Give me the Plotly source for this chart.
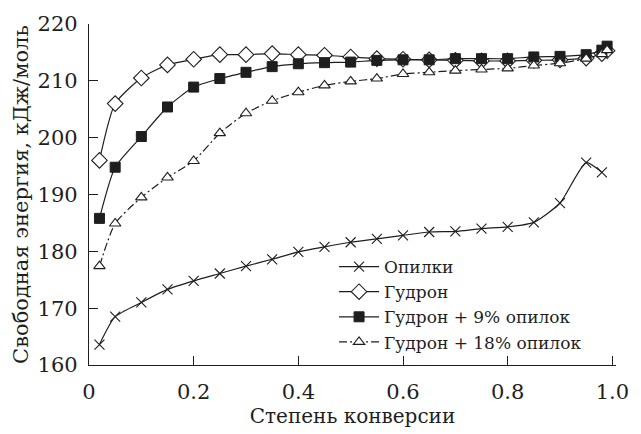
import plotly.graph_objects as go

# Conversion degree values for each series
x_opilki = [0.02, 0.05, 0.10, 0.15, 0.20, 0.25, 0.30, 0.35, 0.40, 0.45, 0.50,
            0.55, 0.60, 0.65, 0.70, 0.75, 0.80, 0.85, 0.90, 0.95, 0.98]
y_opilki = [163.6, 168.5, 171.0, 173.3, 174.8, 176.1, 177.4, 178.6, 179.9, 180.8, 181.6,
            182.2, 182.8, 183.4, 183.5, 184.0, 184.3, 185.1, 188.5, 195.6, 193.9]

x_common = [0.02, 0.05, 0.10, 0.15, 0.20, 0.25, 0.30, 0.35, 0.40, 0.45, 0.50,
            0.55, 0.60, 0.65, 0.70, 0.75, 0.80, 0.85, 0.90, 0.95, 0.98, 0.99]
y_gudron = [196.0, 206.0, 210.5, 212.8, 213.8, 214.6, 214.6, 214.8, 214.6, 214.5, 214.2,
            213.9, 213.8, 213.7, 213.6, 213.5, 213.5, 213.6, 213.7, 214.0, 214.8, 215.3]
y_gudron9 = [185.8, 194.8, 200.2, 205.4, 208.9, 210.4, 211.5, 212.5, 213.0, 213.2, 213.3,
             213.6, 213.7, 213.7, 213.9, 213.9, 213.9, 214.2, 214.3, 214.6, 215.4, 216.1]
y_gudron18 = [177.4, 184.9, 189.5, 193.0, 195.9, 200.8, 204.3, 206.5, 208.0, 209.2, 209.9,
              210.4, 211.2, 211.5, 211.8, 212.0, 212.2, 212.7, 213.1, 213.9, 214.7, 215.4]

names = ["Опилки", "Гудрон", "Гудрон + 9% опилок", "Гудрон + 18% опилок"]

x_ticks = [0, 0.2, 0.4, 0.6, 0.8, 1.0]
x_ticktext = ["0", "0.2", "0.4", "0.6", "0.8", "1.0"]
y_ticks = [160, 170, 180, 190, 200, 210, 220]

ink = "#1e1e1e"
font_family = "DejaVu Serif"

fig = go.Figure()

fig.add_trace(go.Scatter(
    x=x_opilki, y=y_opilki, name=names[0], mode="lines+markers",
    line=dict(color=ink, width=1.2, shape="spline", smoothing=0.6),
    marker=dict(symbol="x-thin", size=10, color=ink, line=dict(color=ink, width=1.1)),
))
fig.add_trace(go.Scatter(
    x=x_common, y=y_gudron, name=names[1], mode="lines+markers",
    line=dict(color=ink, width=1.2, shape="spline", smoothing=0.6),
    marker=dict(symbol="diamond", size=12, color="white", line=dict(color=ink, width=1.1)),
))
fig.add_trace(go.Scatter(
    x=x_common, y=y_gudron9, name=names[2], mode="lines+markers",
    line=dict(color=ink, width=1.2, shape="spline", smoothing=0.6),
    marker=dict(symbol="square", size=10, color=ink, line=dict(color=ink, width=1)),
))
fig.add_trace(go.Scatter(
    x=x_common, y=y_gudron18, name=names[3], mode="lines+markers",
    line=dict(color=ink, width=1.2, shape="spline", smoothing=0.6, dash="8px,3px,2px,3px"),
    marker=dict(symbol="triangle-up", size=10, color="white", line=dict(color=ink, width=1.1)),
))

fig.update_layout(
    width=641, height=434,
    margin=dict(l=89, r=16, t=22, b=67),
    paper_bgcolor="white", plot_bgcolor="white",
    font=dict(family=font_family, color=ink, size=22),
    showlegend=True,
    legend=dict(
        x=0.465, y=0.34, xanchor="left", yanchor="top",
        bgcolor="rgba(0,0,0,0)", borderwidth=0,
        font=dict(family=font_family, size=17, color=ink),
        tracegroupgap=0, itemwidth=40,
    ),
    xaxis=dict(
        range=[0, 1.007], tickvals=x_ticks, ticktext=x_ticktext,
        ticks="inside", ticklen=9, tickwidth=1.2, tickcolor=ink,
        showline=True, linecolor=ink, linewidth=1.3, mirror=False,
        showgrid=False, zeroline=False,
        tickfont=dict(family=font_family, size=21, color=ink),
        ticklabelstandoff=8,
        title=dict(text="Степень конверсии", font=dict(family=font_family, size=20, color=ink), standoff=4),
    ),
    yaxis=dict(
        range=[160, 220], tickvals=y_ticks,
        ticks="inside", ticklen=9, tickwidth=1.2, tickcolor=ink,
        showline=True, linecolor=ink, linewidth=1.3, mirror=False,
        showgrid=False, zeroline=False,
        tickfont=dict(family=font_family, size=21, color=ink),
        ticklabelstandoff=6,
        title=dict(text="Свободная энергия, кДж/моль", font=dict(family=font_family, size=21, color=ink), standoff=3),
    ),
)

fig.write_html("out.html")
